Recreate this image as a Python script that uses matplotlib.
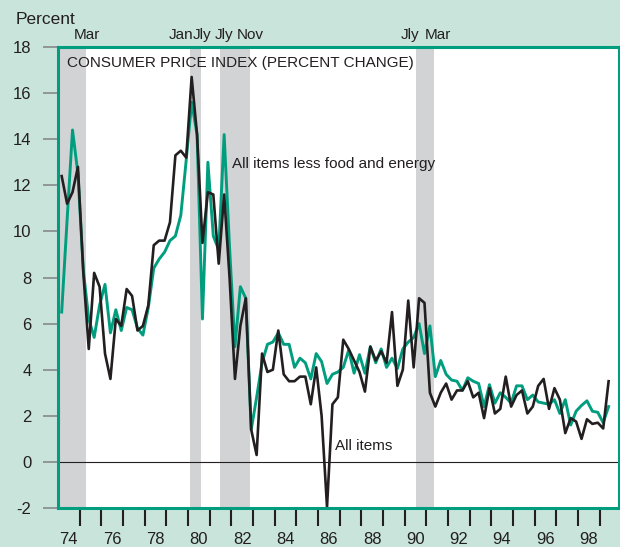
import numpy as np
import matplotlib
matplotlib.use("Agg")
import matplotlib.pyplot as plt

plt.rcParams['font.family'] = ['Liberation Sans', 'DejaVu Sans']
plt.rcParams['axes.unicode_minus'] = False

# quarterly CPI change, 1974Q1 .. 1999Q2 (annualized, percent)
start_year = 1974.17
all_items = [
    12.4, 11.2, 11.7, 12.8, 8.2, 4.9, 8.2, 7.6, 4.7, 3.6,
    6.2, 5.9, 7.5, 7.2, 5.7, 5.9, 6.8, 9.4, 9.6, 9.6,
    10.4, 13.3, 13.5, 13.2, 16.7, 14.2, 9.5, 11.7, 11.6, 8.6,
    11.6, 8.0, 3.6, 5.9, 7.1, 1.4, 0.3, 4.7, 3.9, 4.0,
    5.7, 3.8, 3.5, 3.5, 3.7, 3.7, 2.5, 4.1, 2.0, -1.95,
    2.5, 2.8, 5.3, 4.9, 4.4, 3.9, 3.05, 5.0, 4.4, 4.8,
    4.3, 6.5, 3.3, 4.0, 7.0, 4.1, 7.1, 6.9, 3.0, 2.4,
    3.0, 3.4, 2.7, 3.1, 3.1, 3.5, 2.8, 3.0, 1.9, 3.2,
    2.1, 2.3, 3.7, 2.4, 2.9, 3.1, 2.1, 2.4, 3.3, 3.6,
    2.3, 3.2, 2.7, 1.25, 1.9, 1.75, 1.0, 1.85, 1.65, 1.7,
    1.45, 3.5,
]
core = [
    6.5, 10.5, 14.4, 12.5, 8.3, 6.2, 5.4, 6.8, 7.7, 5.6,
    6.6, 5.7, 6.7, 6.6, 5.8, 5.5, 6.7, 8.4, 8.8, 9.1,
    9.6, 9.8, 10.7, 13.1, 15.6, 14.2, 6.2, 13.0, 9.8, 9.2,
    14.2, 9.3, 5.0, 7.6, 7.1, 1.4, 2.8, 4.3, 5.1, 5.2,
    5.6, 5.1, 5.1, 4.1, 4.5, 4.3, 3.6, 4.7, 4.35, 3.4,
    3.8, 3.9, 4.1, 4.85, 3.85, 4.65, 3.85, 5.0, 4.3, 4.9,
    4.1, 4.5, 4.05, 4.9, 5.2, 5.4, 6.0, 4.7, 5.9, 3.7,
    4.4, 3.8, 3.55, 3.5, 3.1, 3.65, 3.5, 3.4, 2.4, 3.35,
    2.55, 3.0, 2.8, 2.55, 3.3, 3.3, 2.7, 2.9, 2.6, 2.55,
    2.5, 2.7, 2.1, 2.7, 1.6, 2.2, 2.45, 2.65, 2.2, 2.15,
    1.7, 2.4,
]
dates = start_year + 0.25 * np.arange(len(all_items))

# recessions (start, end) in decimal years, with the month labels
recessions = [(1974.0, 1975.3), (1980.08, 1980.62), (1981.47, 1982.85), (1990.54, 1991.35)]
month_labels = [(1975.32, 'Mar'), (1979.7, 'Jan'), (1980.65, 'Jly'), (1981.65, 'Jly'),
                (1982.88, 'Nov'), (1990.26, 'Jly'), (1991.52, 'Mar')]

bg = '#c9e4db'
green = '#009e7f'
black = '#231f20'

fig = plt.figure(figsize=(6.2, 5.47), dpi=100, facecolor=bg)
ax = fig.add_axes([58 / 620, 39 / 547, 561 / 620, 461 / 547])
ax.set_facecolor('white')

for a, b in recessions:
    ax.axvspan(a, b, color='#d1d3d4', lw=0, zorder=1)

ax.axhline(0, color=black, lw=0.8, zorder=2)
ax.plot(dates, core, color=green, lw=2.1, zorder=3)
ax.plot(dates, all_items, color=black, lw=1.9, zorder=4)

ax.set_xlim(1974.0, 1999.9)
ax.set_ylim(-2, 18)

for s in ax.spines.values():
    s.set_color(green)
    s.set_linewidth(2.2)
    s.set_zorder(6)

ax.set_yticks(range(-2, 19, 2))
ax.tick_params(axis='y', direction='out', length=11, width=1.1, color='#808285',
               labelsize=12, pad=8, labelcolor=black)

ax.set_xticks(range(1975, 2000))
ax.set_xticklabels([])
ax.set_xticks([y + 0.5 for y in range(1974, 1999, 2)], minor=True)
ax.set_xticklabels(['%02d' % (y % 100) for y in range(1974, 1999, 2)], minor=True)
ax.tick_params(axis='x', which='major', direction='out', length=13, width=1.5, color=black)
ax.tick_params(axis='x', which='minor', length=0, labelsize=12, pad=17, labelcolor=black)

ax.text(1974.43, 17.3, 'CONSUMER PRICE INDEX (PERCENT CHANGE)', fontsize=11,
        color=black, va='center', ha='left', zorder=5)
ax.text(1982.04, 12.93, 'All items less food and energy', fontsize=11,
        color=black, va='center', ha='left', zorder=5)
ax.text(1986.8, 0.7, 'All items', fontsize=11, color=black, va='center', ha='left', zorder=5)

trans = ax.get_xaxis_transform()
for x, lab in month_labels:
    ax.text(x, 1.026, lab, transform=trans, fontsize=11, color=black,
            ha='center', va='center', clip_on=False)

fig.text(16 / 620, 1 - 20 / 547, 'Percent', fontsize=12.5, color=black, ha='left', va='center')

fig.savefig('out.png', dpi=100, facecolor=bg)
